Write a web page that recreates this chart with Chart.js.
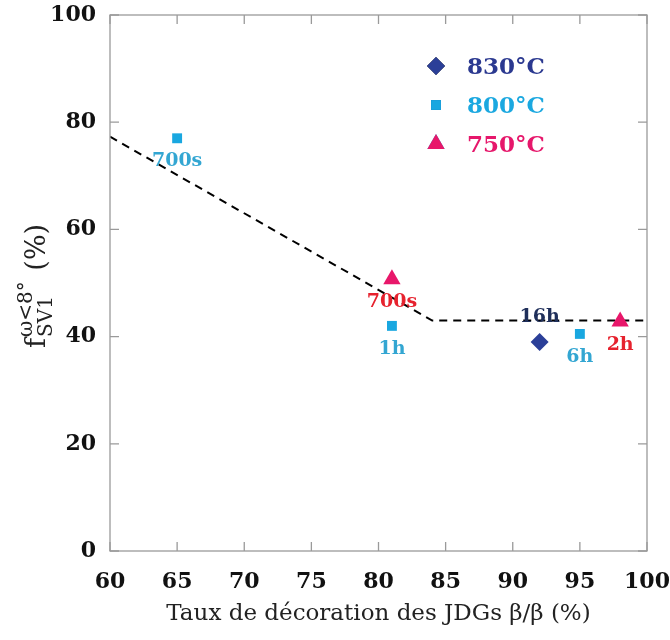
<!DOCTYPE html>
<html>
<head>
<meta charset="utf-8">
<script src="https://cdn.jsdelivr.net/npm/chart.js@4.4.1/dist/chart.umd.min.js"></script>
<style>
  html, body { margin: 0; padding: 0; background: #fff; }
  #wrap { width: 670px; height: 640px; }
</style>
</head>
<body>
<div id="wrap"><canvas id="chart" width="670" height="640"></canvas></div>
<script>
// data
var seriesNames = ['830°C', '800°C', '750°C'];
var x830 = [92];
var y830 = [39];
var lab830 = ['16h'];
var x800 = [65, 81, 95];
var y800 = [77, 42, 40.5];
var lab800 = ['700s', '1h', '6h'];
var x750 = [81, 98];
var y750 = [50.7, 42.8];
var lab750 = ['700s', '2h'];
var trendX = [60, 84, 100];
var trendY = [77.3, 43, 43];
var xTicks = [60, 65, 70, 75, 80, 85, 90, 95, 100];
var yTicks = [0, 20, 40, 60, 80, 100];

function pts(xs, ys) {
    var out = [];
    for (var i = 0; i < xs.length; i++) out.push({x: xs[i], y: ys[i]});
    return out;
}

var serif = "'DejaVu Serif', 'Liberation Serif', serif";

// inside ticks + mirrored box
var boxPlugin = {
    id: 'box',
    afterDraw: function(chart) {
        var ctx = chart.ctx, a = chart.chartArea;
        var xs = chart.scales.x, ys = chart.scales.y;
        ctx.save();
        ctx.strokeStyle = '#9a9a9a';
        ctx.lineWidth = 1.3;
        ctx.strokeRect(a.left, a.top, a.right - a.left, a.bottom - a.top);
        ctx.beginPath();
        xTicks.forEach(function(v) {
            var p = xs.getPixelForValue(v);
            ctx.moveTo(p, a.bottom); ctx.lineTo(p, a.bottom - 9);
            ctx.moveTo(p, a.top); ctx.lineTo(p, a.top + 9);
        });
        yTicks.forEach(function(v) {
            var p = ys.getPixelForValue(v);
            ctx.moveTo(a.left, p); ctx.lineTo(a.left + 9, p);
            ctx.moveTo(a.right, p); ctx.lineTo(a.right - 9, p);
        });
        ctx.stroke();
        ctx.restore();
    }
};

// point labels
var labelPlugin = {
    id: 'pointLabels',
    afterDatasetsDraw: function(chart) {
        var ctx = chart.ctx;
        ctx.save();
        ctx.font = 'bold 19px ' + serif;
        ctx.textAlign = 'center';
        ctx.textBaseline = 'middle';
        chart.data.datasets.forEach(function(ds, i) {
            if (!ds.tags) return;
            var meta = chart.getDatasetMeta(i);
            meta.data.forEach(function(el, j) {
                ctx.fillStyle = ds.tagColor;
                ctx.fillText(ds.tags[j], el.x, el.y + ds.tagOffset);
            });
        });
        ctx.restore();
    }
};

// legend inside plot
var legendPlugin = {
    id: 'innerLegend',
    afterDraw: function(chart) {
        var ctx = chart.ctx;
        var rows = [0, 1, 2];
        ctx.save();
        rows.forEach(function(i) {
            var ds = chart.data.datasets[i];
            var y = 66 + i * 39;
            Chart.helpers.drawPoint(ctx, {
                pointStyle: ds.pointStyle,
                radius: ds.pointRadius,
                borderWidth: 0
            }, 436, y);
            ctx.fillStyle = ds.backgroundColor;
            ctx.fill();
            ctx.font = 'bold 23px ' + serif;
            ctx.textAlign = 'left';
            ctx.textBaseline = 'middle';
            ctx.fillStyle = ds.legendColor;
            ctx.fillText(seriesNames[i], 467, y + 2);
        });
        ctx.restore();
    }
};

// y axis title with super/subscript
var yTitlePlugin = {
    id: 'yTitle',
    afterDraw: function(chart) {
        var ctx = chart.ctx;
        ctx.save();
        ctx.translate(45, 348);
        ctx.rotate(-Math.PI / 2);
        ctx.fillStyle = '#222';
        ctx.textBaseline = 'alphabetic';
        ctx.textAlign = 'left';
        ctx.font = '27px ' + serif;
        ctx.fillText('f', 0, 0);
        var x0 = ctx.measureText('f').width + 1;
        ctx.font = '20px ' + serif;
        var sup = 'ω<8°', sub = 'SV1';
        ctx.fillText(sup, x0, -13);
        ctx.fillText(sub, x0, 7);
        var w = Math.max(ctx.measureText(sup).width, ctx.measureText(sub).width);
        ctx.font = '27px ' + serif;
        ctx.fillText(' (%)', x0 + w + 2, 0);
        ctx.restore();
    }
};

var ctx = document.getElementById('chart');
var myChart = new Chart(ctx, {
    type: 'scatter',
    data: {
        datasets: [
            {
                label: seriesNames[0],
                data: pts(x830, y830),
                pointStyle: 'rectRot',
                pointRadius: 9,
                pointHoverRadius: 9,
                backgroundColor: '#2b3f98',
                borderWidth: 0,
                legendColor: '#2b3990',
                tags: lab830,
                tagColor: '#1f2f5a',
                tagOffset: -25
            },
            {
                label: seriesNames[1],
                data: pts(x800, y800),
                pointStyle: 'rect',
                pointRadius: 7,
                pointHoverRadius: 7,
                backgroundColor: '#19a7e0',
                borderWidth: 0,
                legendColor: '#1ba8e0',
                tags: lab800,
                tagColor: '#33a6d2',
                tagOffset: 23
            },
            {
                label: seriesNames[2],
                data: pts(x750, y750),
                pointStyle: 'triangle',
                pointRadius: 10,
                pointHoverRadius: 10,
                backgroundColor: '#e8176a',
                borderWidth: 0,
                legendColor: '#e6176b',
                tags: lab750,
                tagColor: '#e6222e',
                tagOffset: 23
            },
            {
                type: 'line',
                label: 'trend',
                data: pts(trendX, trendY),
                borderColor: '#000',
                borderWidth: 2,
                borderDash: [8, 6],
                pointRadius: 0,
                fill: false
            }
        ]
    },
    options: {
        responsive: false,
        animation: false,
        layout: { padding: { left: 0, right: 23, top: 15, bottom: 0 } },
        plugins: {
            legend: { display: false },
            tooltip: { enabled: false }
        },
        scales: {
            x: {
                type: 'linear',
                min: 60,
                max: 100,
                grid: { display: false },
                border: { display: false },
                afterFit: function(s) {
                    s.height = 89;
                    s.paddingLeft = 0;
                    s.paddingRight = 0;
                },
                ticks: {
                    stepSize: 5,
                    padding: 10,
                    color: '#111',
                    font: { family: serif, size: 22, weight: 'bold' }
                },
                title: {
                    display: true,
                    text: 'Taux de décoration des JDGs β/β (%)',
                    color: '#222',
                    padding: { top: 4, bottom: 12 },
                    font: { family: serif, size: 23 }
                }
            },
            y: {
                min: 0,
                max: 100,
                grid: { display: false },
                border: { display: false },
                afterFit: function(s) {
                    s.width = 110;
                    s.paddingTop = 0;
                    s.paddingBottom = 0;
                },
                ticks: {
                    stepSize: 20,
                    padding: 6,
                    color: '#111',
                    font: { family: serif, size: 22, weight: 'bold' }
                }
            }
        }
    },
    plugins: [boxPlugin, labelPlugin, legendPlugin, yTitlePlugin]
});
</script>
</body>
</html>
